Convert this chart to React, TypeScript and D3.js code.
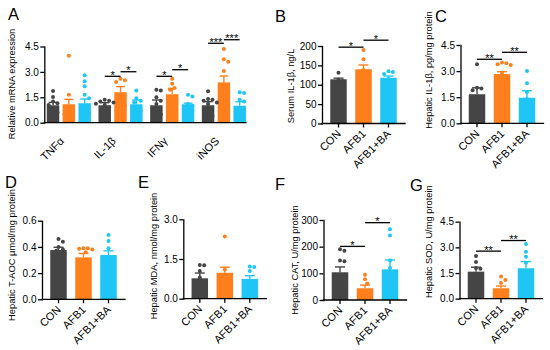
import React, { useEffect, useRef } from "react";
import * as d3 from "d3";

const FONT = "'Liberation Sans', Arial, sans-serif";

const groups = ["CON", "AFB1", "AFB1+BA"];
const colors = ["#454545", "#ff7f1c", "#1fc6f5"];

// A - relative mRNA expression
const genes = ["TNFα", "IL-1β", "IFNγ", "iNOS"];
const mrnaMean = [
  [1.03, 1.09, 1.15],
  [1.03, 1.8, 1.09],
  [1.03, 1.68, 1.09],
  [1.03, 2.38, 1.0],
];
const mrnaSem = [
  [0.17, 0.29, 0.25],
  [0.15, 0.33, 0.25],
  [0.31, 0.35, 0.06],
  [0.21, 0.38, 0.24],
];
const mrnaPoints = [
  [
    [1.87, 1.52, 1.25, 1.15, 1.05, 0.8, 0.6],
    [3.95, 1.65, 0.9, 0.7, 0.6, 0.5],
    [2.8, 2.45, 2.15, 1.65, 1.45, 0.8, 0.6],
  ],
  [
    [1.35, 1.3, 1.25, 1.2, 1.12, 1.05, 0.9],
    [2.6, 2.5, 2.4, 1.5, 1.1, 1.0],
    [1.9, 1.45, 1.3, 1.2, 0.9, 0.7, 0.6],
  ],
  [
    [1.95, 1.9, 1.5, 1.3, 1.1, 0.6, 0.5],
    [2.6, 2.3, 2.05, 1.95, 1.2, 0.9],
    [1.65, 1.55, 1.1, 1.0, 0.8, 0.7],
  ],
  [
    [1.85, 1.4, 1.35, 1.3, 1.2, 1.1, 0.6, 0.4],
    [4.35, 3.75, 3.6, 3.05, 1.2, 0.8],
    [1.8, 1.75, 1.35, 1.25, 0.6, 0.4],
  ],
];
const mrnaTicks = [0, 1.5, 3, 4.5];
const mrnaSig = [
  { gene: 1, from: 0, to: 1, y: 2.74, label: "*" },
  { gene: 1, from: 1, to: 2, y: 3.01, label: "*" },
  { gene: 2, from: 0, to: 1, y: 2.74, label: "*" },
  { gene: 2, from: 1, to: 2, y: 3.13, label: "*" },
  { gene: 3, from: 0, to: 1, y: 4.69, label: "***" },
  { gene: 3, from: 1, to: 2, y: 4.9, label: "***" },
];

// B - serum IL-1β
const serumMean = [114, 140, 118];
const serumSem = [3, 11, 4.5];
const serumPoints = [
  [131, 113, 110, 108],
  [190, 166, 138, 120, 112],
  [135, 133, 128, 115, 105],
];
const serumTicks = [0, 50, 100, 150, 200];
const serumSig = [
  { from: 0, to: 1, y: 197, label: "*" },
  { from: 1, to: 2, y: 215, label: "*" },
];

// C - hepatic IL-1β
const hepIl1bMean = [1.67, 2.83, 1.47];
const hepIl1bSem = [0.37, 0.14, 0.4];
const hepIl1bPoints = [
  [3.4, 2.05, 2.0, 1.9, 1.1, 0.9],
  [3.5, 3.45, 3.4, 3.35, 2.9, 2.5],
  [3.0, 2.3, 1.8, 1.4, 0.9],
];
const hepIl1bTicks = [0, 1.5, 3, 4.5];
const hepIl1bSig = [
  { from: 0, to: 1, y: 3.68, label: "**" },
  { from: 1, to: 2, y: 4.08, label: "**" },
];

// D - hepatic T-AOC
const taocMean = [0.376, 0.32, 0.338];
const taocSem = [0.021, 0.03, 0.032];
const taocPoints = [
  [0.46, 0.44, 0.4, 0.38, 0.37, 0.33],
  [0.39, 0.39, 0.385, 0.38, 0.36, 0.3, 0.22],
  [0.49, 0.445, 0.39, 0.3, 0.26, 0.2],
];
const taocTicks = [0, 0.2, 0.4, 0.6];

// E - hepatic MDA
const mdaMean = [0.77, 0.98, 0.75];
const mdaSem = [0.2, 0.21, 0.12];
const mdaPoints = [
  [1.27, 1.26, 1.05, 0.8, 0.6, 0.4],
  [2.35, 1.1, 0.8, 0.7, 0.6],
  [1.22, 1.2, 1.05, 0.6, 0.4, 0.3],
];
const mdaTicks = [0, 1.5, 3];

// F - hepatic CAT
const catMean = [104, 44, 115];
const catSem = [20, 12, 35];
const catPoints = [
  [190, 185, 148, 145, 90, 60, 40],
  [95, 78, 62, 30, 15, 10],
  [265, 242, 148, 120, 50, 30, 20],
];
const catTicks = [0, 100, 200, 300];
const catSig = [
  { from: 0, to: 1, y: 201, label: "*" },
  { from: 1, to: 2, y: 290, label: "*" },
];

// G - hepatic SOD
const sodMean = [1.58, 0.61, 1.78];
const sodSem = [0.26, 0.13, 0.39];
const sodPoints = [
  [2.5, 2.15, 1.8, 1.75, 1.2, 1.0],
  [1.3, 1.1, 0.92, 0.4, 0.3, 0.2],
  [3.2, 2.75, 2.45, 2.1, 1.2, 0.9, 0.6],
];
const sodTicks = [0, 1.5, 3, 4.5];
const sodSig = [
  { from: 0, to: 1, y: 2.78, label: "**" },
  { from: 1, to: 2, y: 3.4, label: "**" },
];

const panels = [
  { letter: "B", title: "Serum IL-1β, ng/L", mean: serumMean, sem: serumSem, points: serumPoints, ticks: serumTicks, fmt: "d", sig: serumSig,
    box: { axisX: 322, bottom: 123.5, top: 46, labelX: 293.5, labelCy: 86, letterX: 275, letterY: 21.5 } },
  { letter: "C", title: "Hepatic IL-1β, pg/mg protein", mean: hepIl1bMean, sem: hepIl1bSem, points: hepIl1bPoints, ticks: hepIl1bTicks, fmt: ".1f", sig: hepIl1bSig,
    box: { axisX: 460.5, bottom: 123.3, top: 45, labelX: 431.5, labelCy: 70, letterX: 435, letterY: 21.5 } },
  { letter: "D", title: "Hepatic T-AOC μmol/mg protein", mean: taocMean, sem: taocSem, points: taocPoints, ticks: taocTicks, fmt: ".1f", sig: [],
    box: { axisX: 42, bottom: 299.3, top: 220.7, labelX: 15, labelCy: 255, letterX: 5, letterY: 188 } },
  { letter: "E", title: "Hepatic MDA, nmol/mg protein", mean: mdaMean, sem: mdaSem, points: mdaPoints, ticks: mdaTicks, fmt: ".1f", sig: [],
    box: { axisX: 183.3, bottom: 298.7, top: 219.3, labelX: 157, labelCy: 256, letterX: 138, letterY: 188 } },
  { letter: "F", title: "Hepatic CAT, U/mg protein", mean: catMean, sem: catSem, points: catPoints, ticks: catTicks, fmt: "d", sig: catSig,
    box: { axisX: 323.5, bottom: 300, top: 220, labelX: 298, labelCy: 260, letterX: 275, letterY: 190 } },
  { letter: "G", title: "Hepatic SOD, U/mg protein", mean: sodMean, sem: sodSem, points: sodPoints, ticks: sodTicks, fmt: ".1f", sig: sodSig,
    box: { axisX: 459.5, bottom: 298.7, top: 221.7, labelX: 431.5, labelCy: 241.7, letterX: 410, letterY: 191 } },
];

// scatter the dots sideways when they would overlap
function swarm(values: number[], y: (v: number) => number, r: number) {
  const placed: { x: number; y: number }[] = [];
  const step = r * 1.1;
  [...values].sort((a, b) => b - a).forEach((v) => {
    const py = y(v);
    for (let k = 0; k < 30; k++) {
      const off = k === 0 ? 0 : (k % 2 ? 1 : -1) * Math.ceil(k / 2) * step;
      if (placed.every((p) => Math.hypot(p.x - off, p.y - py) >= 2 * r + 0.3)) {
        placed.push({ x: off, y: py });
        break;
      }
    }
  });
  return placed;
}

function drawBars(g: any, xs: number[], bw: number, y: any, mean: number[], sem: number[], pts: number[][]) {
  const cap = Math.min(10, bw * 0.7);
  mean.forEach((m, i) => {
    g.append("rect")
      .attr("x", xs[i] - bw / 2)
      .attr("y", y(m))
      .attr("width", bw)
      .attr("height", y(0) - y(m))
      .attr("fill", colors[i]);
    g.append("line")
      .attr("x1", xs[i]).attr("x2", xs[i])
      .attr("y1", y(m)).attr("y2", y(m + sem[i]))
      .attr("stroke", colors[i]).attr("stroke-width", 1.4);
    g.append("line")
      .attr("x1", xs[i] - cap / 2).attr("x2", xs[i] + cap / 2)
      .attr("y1", y(m + sem[i])).attr("y2", y(m + sem[i]))
      .attr("stroke", colors[i]).attr("stroke-width", 1.4);
  });
  pts.forEach((vals, i) => {
    swarm(vals, y, 2).forEach((p) => {
      g.append("circle")
        .attr("cx", xs[i] + p.x)
        .attr("cy", p.y)
        .attr("r", 2)
        .attr("fill", colors[i]);
    });
  });
}

function drawYAxis(g: any, y: any, ticks: number[], fmt: string, x: number) {
  const ax = g.append("g")
    .attr("transform", `translate(${x},0)`)
    .call(d3.axisLeft(y).tickValues(ticks).tickFormat(d3.format(fmt)).tickSize(4).tickSizeOuter(0).tickPadding(1.5));
  ax.attr("font-family", FONT).attr("font-size", 10);
  ax.select(".domain").attr("stroke-width", 1.3).attr("stroke-linecap", "square");
  ax.selectAll(".tick line").attr("stroke-width", 1.3);
  ax.selectAll(".tick text").attr("fill", "#000");
}

function drawXLine(g: any, x1: number, x2: number, y: number) {
  g.append("line")
    .attr("x1", x1).attr("x2", x2)
    .attr("y1", y).attr("y2", y)
    .attr("stroke", "#000").attr("stroke-width", 1.3).attr("stroke-linecap", "square");
}

function drawSig(g: any, x1: number, x2: number, y: number, label: string) {
  g.append("line")
    .attr("x1", x1).attr("x2", x2)
    .attr("y1", y).attr("y2", y)
    .attr("stroke", "#000").attr("stroke-width", 1.3);
  g.append("text")
    .attr("x", (x1 + x2) / 2)
    .attr("y", y + 2.5)
    .attr("text-anchor", "middle")
    .attr("font-size", 11)
    .text(label);
}

function drawTitle(g: any, text: string, x: number, cy: number) {
  g.append("text")
    .attr("transform", `translate(${x},${cy}) rotate(-90)`)
    .attr("text-anchor", "middle")
    .attr("font-size", 9.3)
    .text(text);
}

function drawLetter(g: any, text: string, x: number, y: number) {
  g.append("text").attr("x", x).attr("y", y).attr("font-size", 16.5).text(text);
}

function drawMrna(svg: any) {
  const g = svg.append("g");
  const axisX = 44.3;
  const bottom = 122.7;
  const y = d3.scaleLinear().domain([0, 4.5]).range([bottom, 46.5]);
  const x0 = d3.scaleBand().domain(genes).range([43, 249.7]);
  const x1 = d3.scaleBand().domain(groups).range([3.8, 47.9]).paddingInner(0.21);
  const bw = x1.bandwidth();
  const center = (gi: number, k: number) => (x0(genes[gi]) as number) + (x1(groups[k]) as number) + bw / 2;

  genes.forEach((_, gi) => {
    drawBars(g, groups.map((_, k) => center(gi, k)), bw, y, mrnaMean[gi], mrnaSem[gi], mrnaPoints[gi]);
  });
  drawYAxis(g, y, mrnaTicks, ".1f", axisX);
  drawXLine(g, axisX, 246, bottom);

  const xa = g.append("g")
    .attr("transform", `translate(0,${bottom})`)
    .call(d3.axisBottom(x0).tickSize(0).tickSizeOuter(0));
  xa.select(".domain").remove();
  xa.attr("font-family", FONT).attr("font-size", 11);
  xa.selectAll(".tick text")
    .attr("fill", "#000")
    .attr("x", 0).attr("y", 0).attr("dy", 0)
    .attr("text-anchor", "end")
    .attr("transform", "translate(-4,19) rotate(-45)");

  mrnaSig.forEach((s) => drawSig(g, center(s.gene, s.from), center(s.gene, s.to), y(s.y), s.label));
  drawTitle(g, "Relative mRNA expression", 14.5, 84);
  drawLetter(g, "A", 8, 20);
}

function drawPanel(svg: any, p: any) {
  const b = p.box;
  const g = svg.append("g");
  const y = d3.scaleLinear().domain([0, p.ticks[p.ticks.length - 1]]).range([b.bottom, b.top]);
  const x = d3.scaleBand().domain(groups).range([b.axisX, b.axisX + 83]).paddingInner(0.34).paddingOuter(0.33);
  const bw = x.bandwidth();
  const xs = groups.map((k) => (x(k) as number) + bw / 2);

  drawBars(g, xs, bw, y, p.mean, p.sem, p.points);
  drawYAxis(g, y, p.ticks, p.fmt, b.axisX);
  drawXLine(g, b.axisX, b.axisX + 83, b.bottom);

  const xa = g.append("g")
    .attr("transform", `translate(0,${b.bottom})`)
    .call(d3.axisBottom(x).tickSize(4).tickSizeOuter(0));
  xa.select(".domain").remove();
  xa.attr("font-family", FONT).attr("font-size", 11);
  xa.selectAll(".tick line").attr("stroke-width", 1.3);
  xa.selectAll(".tick text")
    .attr("fill", "#000")
    .attr("x", 0).attr("y", 0).attr("dy", 0)
    .attr("text-anchor", "end")
    .attr("transform", "translate(3,11) rotate(-45)");

  p.sig.forEach((s: any) => drawSig(g, xs[s.from], xs[s.to], y(s.y), s.label));
  drawTitle(g, p.title, b.labelX, b.labelCy);
  drawLetter(g, p.letter, b.letterX, b.letterY);
}

export default function App() {
  const svgRef = useRef<SVGSVGElement>(null);

  useEffect(() => {
    const svg = d3.select(svgRef.current);
    svg.selectAll("*").remove();
    drawMrna(svg);
    panels.forEach((p) => drawPanel(svg, p));
  }, []);

  return (
    <svg
      ref={svgRef}
      width={550}
      height={350}
      fontFamily={FONT}
      style={{ position: "absolute", left: 0, top: 0, background: "#fff" }}
    />
  );
}
